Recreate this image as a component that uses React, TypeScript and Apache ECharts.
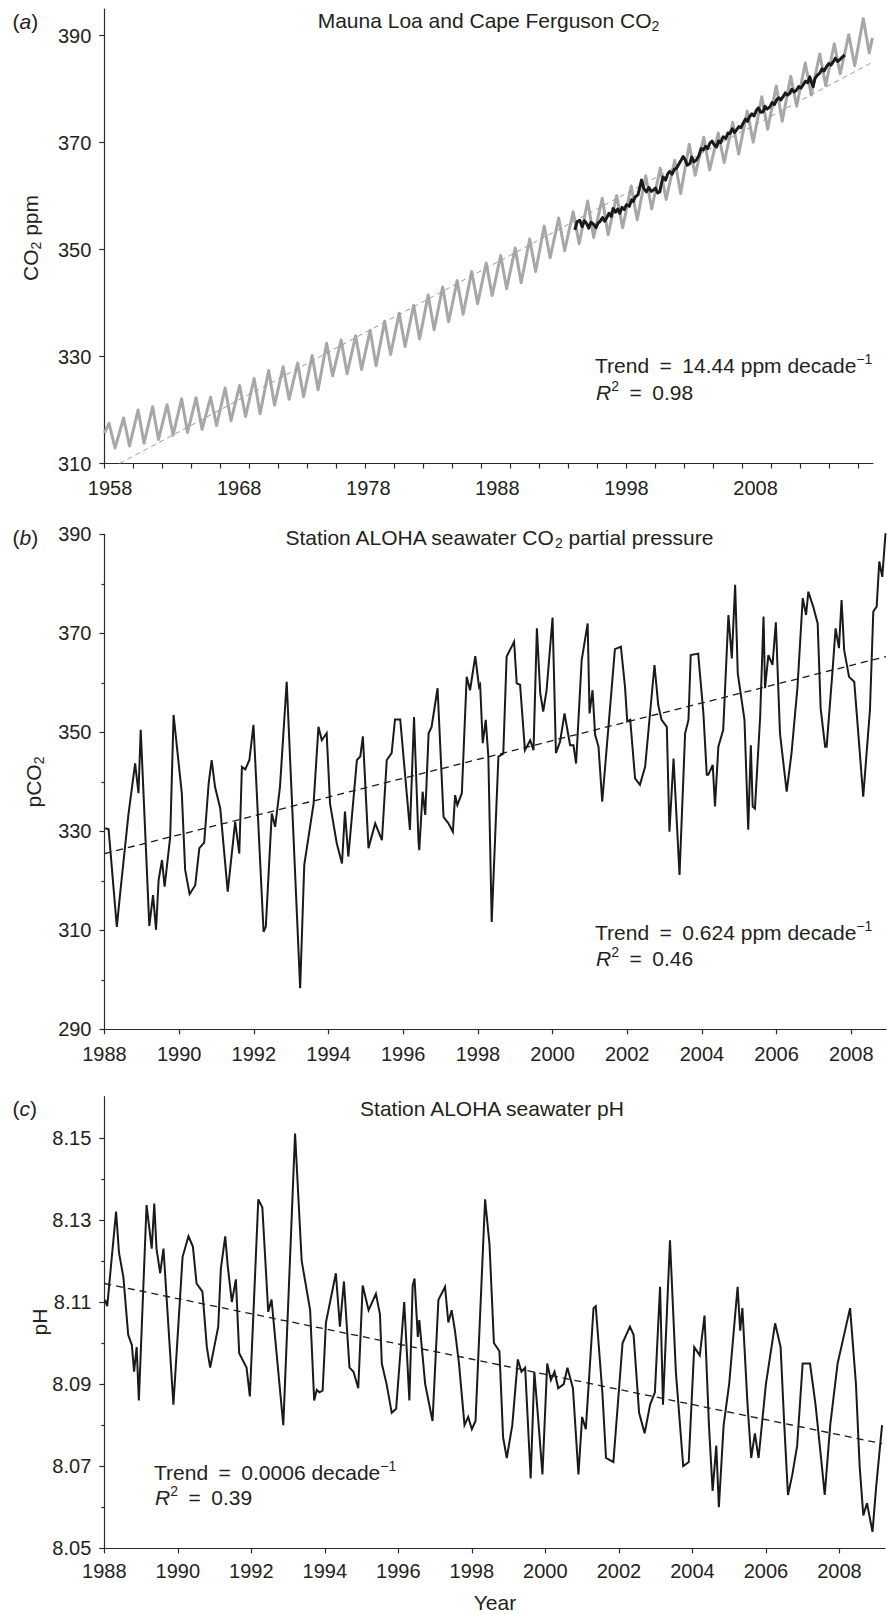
import React, { useEffect, useRef } from 'react';
import * as echarts from 'echarts';

const FONT = "'Liberation Sans', Arial, Helvetica, sans-serif";
const INK = '#231f20';
const AX = '#2a2a2a';

// ---------- Panel (a): Mauna Loa (grey) and Cape Ferguson (black) CO2, ppm ----------
const mlYears = [
  1958, 1959, 1960, 1961, 1962, 1963, 1964, 1965, 1966, 1967, 1968, 1969, 1970, 1971,
  1972, 1973, 1974, 1975, 1976, 1977, 1978, 1979, 1980, 1981, 1982, 1983, 1984, 1985,
  1986, 1987, 1988, 1989, 1990, 1991, 1992, 1993, 1994, 1995, 1996, 1997, 1998, 1999,
  2000, 2001, 2002, 2003, 2004, 2005, 2006, 2007, 2008, 2009, 2010,
];
// seasonal maximum (about May) and minimum (about late September) of each year
const mlMayPeak = [
  317.5, 318.5, 320.0, 320.6, 321.0, 322.1, 322.3, 322.4, 324.1, 324.6, 325.9, 327.4, 328.1, 328.8,
  330.2, 332.5, 333.1, 333.9, 334.9, 336.6, 338.1, 339.6, 341.5, 343.0, 344.2, 345.9, 347.5, 348.9,
  350.3, 352.0, 354.4, 355.9, 357.1, 359.1, 359.6, 360.1, 361.9, 363.8, 365.2, 366.7, 369.7, 371.0,
  371.8, 373.8, 375.9, 378.6, 380.6, 382.4, 384.9, 386.6, 388.5, 390.2, 393.2,
];
const mlSeptTrough = [
  312.9, 313.3, 313.8, 314.5, 315.3, 315.8, 316.4, 317.1, 318.0, 318.8, 319.3, 320.9, 322.0, 322.5,
  323.8, 326.4, 326.8, 327.6, 328.3, 330.4, 331.9, 333.3, 335.0, 336.5, 337.9, 339.9, 341.4, 342.7,
  343.8, 345.9, 348.5, 349.8, 351.1, 352.3, 352.8, 354.1, 355.6, 357.6, 359.4, 360.5, 363.9, 364.9,
  366.3, 367.9, 370.1, 372.5, 374.0, 376.8, 378.9, 380.7, 382.9, 384.4, 386.8,
];
const PEAK_MONTH_FRACTION = 0.33;
const TROUGH_MONTH_FRACTION = 0.74;
const mlFirst = [1958.0, 315.7];
const mlLast = [2010.96, 389.6];

const capeFerguson = [
  [1990.44, 353.7], [1990.6, 355.2], [1990.78, 355.5], [1990.95, 354.3], [1991.1, 355.4], [1991.25, 354.9],
  [1991.4, 354.0], [1991.55, 355.1], [1991.71, 354.8], [1991.9, 354.1], [1992.05, 355.0], [1992.17, 355.2],
  [1992.35, 356.0], [1992.5, 355.3], [1992.63, 355.9], [1992.8, 356.8], [1992.95, 356.2], [1993.08, 357.7],
  [1993.25, 357.0], [1993.4, 357.6], [1993.54, 356.8], [1993.7, 357.9], [1993.85, 357.5], [1994.0, 358.4],
  [1994.2, 358.1], [1994.35, 359.3], [1994.46, 359.0], [1994.6, 359.8], [1994.8, 360.3], [1995.04, 363.0],
  [1995.2, 361.4], [1995.38, 360.8], [1995.55, 361.6], [1995.7, 360.9], [1995.84, 361.1], [1996.0, 361.5],
  [1996.15, 360.6], [1996.3, 360.8], [1996.42, 362.5], [1996.53, 363.6], [1996.7, 363.0], [1996.85, 364.2],
  [1996.99, 364.6], [1997.15, 364.1], [1997.3, 365.0], [1997.45, 365.2], [1997.6, 365.9], [1997.75, 366.6],
  [1997.91, 367.4], [1998.05, 366.8], [1998.2, 365.8], [1998.37, 366.1], [1998.5, 367.3], [1998.65, 366.4],
  [1998.83, 366.8], [1999.0, 367.6], [1999.15, 368.9], [1999.29, 368.6], [1999.45, 369.3], [1999.6, 368.9],
  [1999.75, 369.9], [1999.9, 370.3], [2000.05, 369.6], [2000.21, 369.2], [2000.35, 370.3], [2000.5, 370.0],
  [2000.67, 371.1], [2000.85, 370.8], [2001.0, 371.8], [2001.13, 371.7], [2001.3, 372.6], [2001.45, 371.9],
  [2001.59, 372.4], [2001.75, 373.0], [2001.9, 372.8], [2002.04, 373.6], [2002.2, 374.4], [2002.35, 374.0],
  [2002.5, 374.9], [2002.65, 375.4], [2002.8, 375.0], [2002.97, 376.1], [2003.1, 376.5], [2003.25, 375.7],
  [2003.42, 375.8], [2003.55, 376.8], [2003.7, 376.3], [2003.89, 376.7], [2004.05, 377.5], [2004.2, 377.1],
  [2004.35, 378.0], [2004.5, 378.4], [2004.65, 378.0], [2004.8, 378.6], [2004.95, 379.3], [2005.1, 378.9],
  [2005.26, 379.2], [2005.4, 380.0], [2005.55, 379.5], [2005.72, 379.8], [2005.88, 380.5], [2006.03, 380.2],
  [2006.18, 380.8], [2006.35, 381.5], [2006.5, 381.2], [2006.64, 382.3], [2006.75, 381.4], [2006.87, 380.5],
  [2007.0, 382.0], [2007.15, 382.6], [2007.33, 383.0], [2007.48, 383.8], [2007.62, 383.4], [2007.79, 384.2],
  [2007.95, 384.8], [2008.1, 384.5], [2008.25, 385.1], [2008.4, 385.8], [2008.55, 385.2], [2008.71, 385.5],
  [2008.88, 386.0], [2009.06, 386.4],
];
const trendA = [[1959.05, 310.0], [2011.0, 385.1]];
const aXTickLabels = ['1958', '1968', '1978', '1988', '1998', '2008'];
const aXTickLabelAt = [1958.4, 1967.3, 1976.2, 1985.1, 1994.0, 2002.9];
const aYTicks = [310, 330, 350, 370, 390];

// ---------- Panel (b): Station ALOHA seawater pCO2 ----------
const pco2 = [
  [1988.02, 330.6], [1988.11, 330.4], [1988.33, 310.7], [1988.42, 317.5], [1988.64, 333.3], [1988.82, 343.7],
  [1988.91, 337.7], [1988.97, 350.5], [1989.2, 310.9], [1989.3, 317.1], [1989.38, 310.1], [1989.45, 320.2],
  [1989.54, 324.2], [1989.61, 318.8], [1989.76, 328.9], [1989.85, 353.5], [1990.07, 337.7], [1990.16, 322.2],
  [1990.28, 317.3], [1990.43, 319.1], [1990.54, 326.6], [1990.67, 327.7], [1990.79, 339.7], [1990.87, 344.4],
  [1990.96, 339.0], [1991.1, 334.6], [1991.3, 317.8], [1991.5, 331.9], [1991.61, 325.5], [1991.68, 343.0],
  [1991.77, 342.5], [1991.88, 344.4], [1991.99, 351.5], [1992.26, 309.7], [1992.32, 310.7], [1992.48, 333.6],
  [1992.57, 330.9], [1992.7, 339.0], [1992.88, 360.2], [1993.24, 298.3], [1993.35, 323.2], [1993.6, 335.6],
  [1993.73, 351.1], [1993.82, 348.4], [1993.95, 349.8], [1994.04, 335.6], [1994.22, 327.6], [1994.36, 323.5],
  [1994.44, 334.0], [1994.53, 324.9], [1994.76, 344.4], [1994.85, 345.1], [1994.92, 349.2], [1995.07, 326.6],
  [1995.25, 331.6], [1995.43, 328.2], [1995.56, 344.4], [1995.69, 345.8], [1995.78, 352.6], [1995.92, 352.6],
  [1996.18, 330.3], [1996.29, 353.1], [1996.41, 327.9], [1996.43, 326.2], [1996.52, 338.0], [1996.59, 333.3],
  [1996.68, 349.8], [1996.76, 351.1], [1996.92, 358.9], [1997.08, 332.9], [1997.21, 331.6], [1997.33, 329.9],
  [1997.39, 337.3], [1997.45, 335.3], [1997.57, 337.7], [1997.7, 361.2], [1997.79, 358.5], [1997.93, 365.4],
  [1998.03, 359.2], [1998.06, 359.6], [1998.13, 347.8], [1998.21, 352.5], [1998.28, 345.1], [1998.37, 311.7],
  [1998.55, 345.1], [1998.68, 345.7], [1998.77, 365.3], [1998.97, 368.3], [1999.04, 359.9], [1999.13, 359.6],
  [1999.26, 346.4], [1999.4, 348.4], [1999.49, 346.4], [1999.58, 371.0], [1999.67, 357.9], [1999.75, 354.2],
  [1999.84, 358.5], [2000.0, 373.2], [2000.09, 345.8], [2000.2, 348.1], [2000.32, 353.8], [2000.47, 347.4],
  [2000.56, 347.4], [2000.63, 343.7], [2000.78, 364.6], [2000.94, 372.0], [2000.99, 353.8], [2001.07, 358.5],
  [2001.14, 349.5], [2001.23, 347.1], [2001.33, 336.0], [2001.67, 366.8], [2001.83, 367.3], [2001.94, 359.2],
  [2002.0, 352.2], [2002.08, 352.5], [2002.21, 340.7], [2002.34, 339.4], [2002.48, 343.1], [2002.61, 353.8],
  [2002.73, 363.6], [2002.83, 355.5], [2002.92, 352.5], [2003.06, 351.1], [2003.13, 329.9], [2003.24, 344.7],
  [2003.4, 321.2], [2003.55, 349.8], [2003.64, 352.5], [2003.7, 365.6], [2003.9, 365.9], [2004.04, 353.8],
  [2004.13, 341.4], [2004.17, 341.4], [2004.29, 343.4], [2004.35, 335.0], [2004.44, 347.1], [2004.57, 350.5],
  [2004.71, 373.7], [2004.8, 364.9], [2004.89, 379.8], [2004.96, 361.9], [2005.14, 352.5], [2005.24, 330.3],
  [2005.31, 347.4], [2005.36, 335.0], [2005.42, 334.6], [2005.56, 353.2], [2005.65, 373.4], [2005.69, 358.9],
  [2005.78, 365.6], [2005.89, 363.6], [2005.98, 372.2], [2006.09, 349.8], [2006.27, 338.0], [2006.4, 345.8],
  [2006.56, 359.2], [2006.7, 377.1], [2006.79, 373.7], [2006.85, 378.4], [2006.98, 375.4], [2007.1, 372.0],
  [2007.18, 354.8], [2007.3, 347.1], [2007.34, 347.1], [2007.5, 362.6], [2007.58, 371.0], [2007.67, 367.0],
  [2007.74, 376.7], [2007.81, 366.6], [2007.94, 361.2], [2008.08, 360.2], [2008.32, 337.0], [2008.5, 354.5],
  [2008.59, 374.4], [2008.68, 375.4], [2008.75, 384.5], [2008.83, 381.4], [2008.92, 390.5],
];
const trendB = [[1988.0, 325.5], [2008.93, 365.3]];
const bYTicks = [290, 310, 330, 350, 370, 390];
const bYMinorTicks = [300, 320, 340, 360, 380];
const yearTicks = [1988, 1990, 1992, 1994, 1996, 1998, 2000, 2002, 2004, 2006, 2008];

// ---------- Panel (c): Station ALOHA seawater pH ----------
const ph = [
  [1988.02, 8.1105], [1988.08, 8.109], [1988.32, 8.132], [1988.4, 8.122], [1988.52, 8.116], [1988.65, 8.102],
  [1988.75, 8.0995], [1988.81, 8.093], [1988.88, 8.099], [1988.94, 8.086], [1989.15, 8.1336], [1989.29, 8.123],
  [1989.36, 8.134], [1989.42, 8.123], [1989.52, 8.117], [1989.61, 8.123], [1989.88, 8.085], [1990.13, 8.121],
  [1990.29, 8.126], [1990.41, 8.1235], [1990.51, 8.1145], [1990.67, 8.1125], [1990.79, 8.099], [1990.88, 8.094],
  [1991.1, 8.104], [1991.17, 8.118], [1991.29, 8.126], [1991.36, 8.1186], [1991.47, 8.11], [1991.58, 8.1155],
  [1991.67, 8.0975], [1991.87, 8.094], [1991.96, 8.087], [1992.19, 8.135], [1992.3, 8.133], [1992.46, 8.1076],
  [1992.55, 8.1106], [1992.87, 8.08], [1993.19, 8.151], [1993.37, 8.12], [1993.6, 8.108], [1993.71, 8.086],
  [1993.78, 8.0886], [1993.85, 8.088], [1993.94, 8.0884], [1994.03, 8.105], [1994.3, 8.117], [1994.41, 8.104],
  [1994.52, 8.115], [1994.67, 8.094], [1994.78, 8.093], [1994.91, 8.089], [1995.03, 8.114], [1995.19, 8.108],
  [1995.39, 8.112], [1995.5, 8.107], [1995.55, 8.095], [1995.68, 8.09], [1995.82, 8.083], [1995.94, 8.084],
  [1996.16, 8.11], [1996.3, 8.086], [1996.39, 8.114], [1996.44, 8.1157], [1996.53, 8.1015], [1996.57, 8.1056],
  [1996.73, 8.09], [1996.93, 8.081], [1997.09, 8.1105], [1997.27, 8.1137], [1997.36, 8.105], [1997.45, 8.108],
  [1997.54, 8.103], [1997.65, 8.095], [1997.8, 8.08], [1997.9, 8.082], [1998.0, 8.079], [1998.1, 8.081],
  [1998.36, 8.135], [1998.48, 8.124], [1998.6, 8.1], [1998.75, 8.098], [1998.85, 8.077], [1998.95, 8.072],
  [1999.1, 8.08], [1999.25, 8.096], [1999.35, 8.093], [1999.45, 8.094], [1999.6, 8.067], [1999.7, 8.093],
  [1999.8, 8.082], [1999.92, 8.068], [2000.05, 8.095], [2000.15, 8.091], [2000.25, 8.093], [2000.35, 8.089],
  [2000.5, 8.09], [2000.6, 8.094], [2000.75, 8.089], [2000.9, 8.068], [2001.0, 8.082], [2001.1, 8.079],
  [2001.31, 8.1085], [2001.37, 8.109], [2001.55, 8.088], [2001.65, 8.072], [2001.85, 8.071], [2002.1, 8.1],
  [2002.3, 8.104], [2002.4, 8.102], [2002.55, 8.083], [2002.7, 8.078], [2002.85, 8.085], [2002.98, 8.088],
  [2003.12, 8.1137], [2003.2, 8.085], [2003.39, 8.125], [2003.55, 8.093], [2003.75, 8.07], [2003.9, 8.071],
  [2004.05, 8.099], [2004.2, 8.097], [2004.33, 8.1067], [2004.45, 8.08], [2004.55, 8.064], [2004.65, 8.075],
  [2004.72, 8.06], [2004.85, 8.08], [2005.0, 8.09], [2005.23, 8.1137], [2005.3, 8.103], [2005.36, 8.1085],
  [2005.5, 8.085], [2005.6, 8.072], [2005.7, 8.078], [2005.8, 8.072], [2006.0, 8.09], [2006.25, 8.1048],
  [2006.4, 8.099], [2006.5, 8.08], [2006.6, 8.063], [2006.72, 8.068], [2006.85, 8.075], [2007.0, 8.095],
  [2007.2, 8.095], [2007.35, 8.085], [2007.5, 8.072], [2007.6, 8.063], [2007.75, 8.08], [2007.95, 8.095],
  [2008.29, 8.1085], [2008.45, 8.09], [2008.55, 8.07], [2008.65, 8.058], [2008.75, 8.061], [2008.9, 8.054],
  [2009.0, 8.065], [2009.16, 8.08],
];
const trendC = [[1988.0, 8.1145], [2009.16, 8.0755]];
const cYTicks = [8.05, 8.07, 8.09, 8.11, 8.13, 8.15];
const cYMinorTicks = [8.06, 8.08, 8.1, 8.12, 8.14];

// ---------- helpers ----------
const TXT_SIZE = 21;
const TICK_SIZE = 20;
const EQ = '\u2002=\u2002';

const RICH: any = {
  sub: { fontSize: 14, fontFamily: FONT, fill: INK, color: INK, verticalAlign: 'bottom', lineHeight: 14 },
  sup: { fontSize: 14, fontFamily: FONT, fill: INK, color: INK, verticalAlign: 'top', lineHeight: 14 },
  it: { fontSize: TXT_SIZE, fontFamily: FONT, fontStyle: 'italic', fill: INK, color: INK, lineHeight: 26 },
};

function txt(x: number, y: number, text: string, align = 'left', rotation = 0) {
  return {
    type: 'text',
    x,
    y,
    rotation,
    silent: true,
    style: {
      text,
      x: 0,
      y: 0,
      fill: INK,
      fontSize: TXT_SIZE,
      fontFamily: FONT,
      lineHeight: 26,
      align,
      verticalAlign: 'middle',
      textAlign: align,
      textVerticalAlign: 'middle',
      rich: RICH,
    },
  };
}

const labelStyle = { fontSize: TICK_SIZE, color: INK, fontFamily: FONT };
const lineStyleAxis = { color: AX, width: 1.2 };

function yAxisMain(gridIndex: number, min: number, max: number, ticks: number[], fmt: (v: number) => string) {
  return {
    type: 'value',
    gridIndex,
    position: 'left',
    min,
    max,
    axisLine: { show: true, onZero: false, lineStyle: lineStyleAxis },
    axisTick: { show: true, length: 5, customValues: ticks, lineStyle: lineStyleAxis },
    axisLabel: { show: true, customValues: ticks, formatter: fmt, margin: 13, ...labelStyle },
    splitLine: { show: false },
  };
}
function yAxisMinor(gridIndex: number, min: number, max: number, ticks: number[]) {
  return {
    type: 'value',
    gridIndex,
    position: 'left',
    offset: 0,
    min,
    max,
    axisLine: { show: false, onZero: false },
    axisTick: { show: true, length: 3, customValues: ticks, lineStyle: lineStyleAxis },
    axisLabel: { show: false },
    splitLine: { show: false },
  };
}
function xAxisYears(gridIndex: number, min: number, max: number, margin: number) {
  return {
    type: 'value',
    gridIndex,
    position: 'bottom',
    min,
    max,
    axisLine: { show: true, onZero: false, lineStyle: lineStyleAxis },
    axisTick: { show: true, length: 5, customValues: yearTicks, lineStyle: lineStyleAxis },
    axisLabel: { show: true, customValues: yearTicks, formatter: (v: number) => String(Math.round(v)), margin, ...labelStyle },
    splitLine: { show: false },
  };
}

function buildOption() {
  const mlData: number[][] = [mlFirst];
  mlYears.forEach((yr, i) => {
    mlData.push([yr + PEAK_MONTH_FRACTION, mlMayPeak[i]]);
    mlData.push([yr + TROUGH_MONTH_FRACTION, mlSeptTrough[i]]);
  });
  mlData.push(mlLast);

  const aTicks: number[] = [];
  for (let y = 1958; y <= 2010; y += 2) aTicks.push(y);

  return {
    animation: false,
    backgroundColor: '#ffffff',
    grid: [
      { left: 104.3, top: 9, width: 768.7, height: 454.5, containLabel: false },
      { left: 104.5, top: 534.3, width: 781.5, height: 495, containLabel: false },
      { left: 104.3, top: 1096.7, width: 780.7, height: 451.6, containLabel: false },
    ],
    xAxis: [
      {
        type: 'value',
        gridIndex: 0,
        position: 'bottom',
        min: 1958,
        max: 2011,
        axisLine: { show: true, onZero: false, lineStyle: lineStyleAxis },
        axisTick: { show: true, length: 5, customValues: aTicks, lineStyle: lineStyleAxis },
        axisLabel: {
          show: true,
          customValues: aXTickLabelAt,
          formatter: (v: number) => {
            let best = 0;
            aXTickLabelAt.forEach((p, i) => {
              if (Math.abs(p - v) < Math.abs(aXTickLabelAt[best] - v)) best = i;
            });
            return aXTickLabels[best];
          },
          margin: 14,
          ...labelStyle,
        },
        splitLine: { show: false },
      },
      xAxisYears(1, 1988, 2008.93, 15),
      xAxisYears(2, 1988, 2009.24, 13),
    ],
    yAxis: [
      yAxisMain(0, 310, 395, aYTicks, (v) => String(v)),
      yAxisMain(1, 290, 390, bYTicks, (v) => String(v)),
      yAxisMinor(1, 290, 390, bYMinorTicks),
      yAxisMain(2, 8.05, 8.16, cYTicks, (v) => v.toFixed(2)),
      yAxisMinor(2, 8.05, 8.16, cYMinorTicks),
    ],
    series: [
      {
        type: 'line', xAxisIndex: 0, yAxisIndex: 0, data: mlData, showSymbol: false, symbol: 'none',
        lineStyle: { color: '#a5a7aa', width: 3, join: 'round' }, z: 2,
      },
      {
        type: 'line', xAxisIndex: 0, yAxisIndex: 0, data: trendA, showSymbol: false, symbol: 'none',
        lineStyle: { color: '#9a9a9a', width: 1, type: [5, 4] }, z: 3,
      },
      {
        type: 'line', xAxisIndex: 0, yAxisIndex: 0, data: capeFerguson, showSymbol: false, symbol: 'none',
        lineStyle: { color: '#1a1a1a', width: 3, join: 'round' }, z: 4,
      },
      {
        type: 'line', xAxisIndex: 1, yAxisIndex: 1, data: pco2, showSymbol: false, symbol: 'none',
        lineStyle: { color: '#1a1a1a', width: 2, join: 'miter' }, z: 3,
      },
      {
        type: 'line', xAxisIndex: 1, yAxisIndex: 1, data: trendB, showSymbol: false, symbol: 'none',
        lineStyle: { color: '#1a1a1a', width: 1.3, type: [7, 5] }, z: 4,
      },
      {
        type: 'line', xAxisIndex: 2, yAxisIndex: 3, data: ph, showSymbol: false, symbol: 'none',
        lineStyle: { color: '#1a1a1a', width: 2, join: 'miter' }, z: 3,
      },
      {
        type: 'line', xAxisIndex: 2, yAxisIndex: 3, data: trendC, showSymbol: false, symbol: 'none',
        lineStyle: { color: '#1a1a1a', width: 1.3, type: [7, 5] }, z: 4,
      },
    ],
    graphic: [
      txt(12.5, 21, '({it|a})'),
      txt(488.5, 20, 'Mauna Loa and Cape Ferguson CO{sub|2}', 'center'),
      txt(30, 238, 'CO{sub|2} ppm', 'center', Math.PI / 2),
      txt(595, 365, 'Trend' + EQ + '14.44 ppm decade{sup|−1}'),
      txt(596, 392, '{it|R}{sup|2}' + EQ + '0.98'),

      txt(12.5, 537, '({it|b})'),
      txt(498.8, 537, 'Station ALOHA seawater CO{sub|2} partial pressure', 'center'),
      txt(33, 782, 'pCO{sub|2}', 'center', Math.PI / 2),
      txt(595, 932, 'Trend' + EQ + '0.624 ppm decade{sup|−1}'),
      txt(596, 958, '{it|R}{sup|2}' + EQ + '0.46'),

      txt(12.5, 1108, '({it|c})'),
      txt(492, 1108, 'Station ALOHA seawater pH', 'center'),
      txt(39, 1322, 'pH', 'center', Math.PI / 2),
      txt(154, 1472, 'Trend' + EQ + '0.0006 decade{sup|−1}'),
      txt(155, 1497, '{it|R}{sup|2}' + EQ + '0.39'),

      txt(495, 1602, 'Year', 'center'),
    ],
  };
}

export default function App() {
  const ref = useRef<HTMLDivElement>(null);
  useEffect(() => {
    document.body.style.margin = '0';
    const chart = echarts.init(ref.current as HTMLDivElement, null, { renderer: 'svg' });
    chart.setOption(buildOption() as any);
    return () => chart.dispose();
  }, []);
  return <div ref={ref} style={{ width: 887, height: 1614 }} />;
}
